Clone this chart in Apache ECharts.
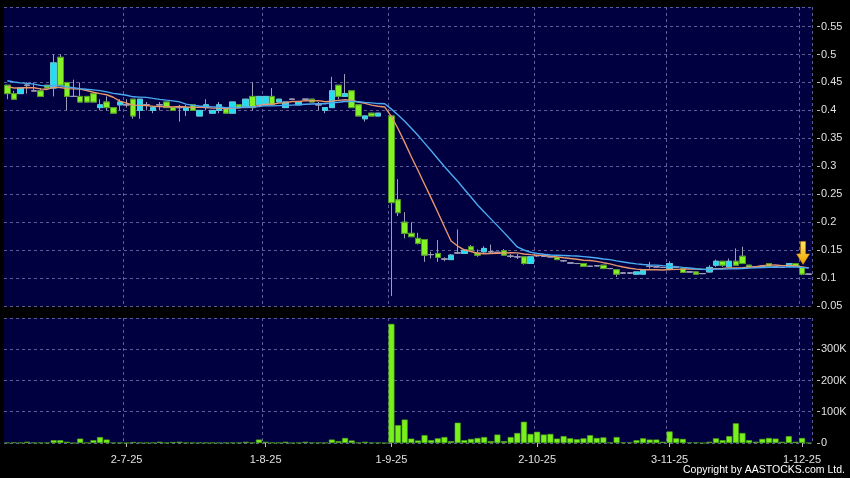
<!DOCTYPE html>
<html><head><meta charset="utf-8">
<script src="https://cdn.jsdelivr.net/npm/echarts@6/dist/echarts.min.js"></script>
<style>html,body{margin:0;padding:0;background:#000;}#c{width:850px;height:478px;}</style>
</head><body><div id="c"></div>
<script>
// Trading days (d-m-yy)
const dates = [
'5-6-25','6-6-25','9-6-25','10-6-25','11-6-25','12-6-25','13-6-25','16-6-25','17-6-25','18-6-25','19-6-25','20-6-25','23-6-25','24-6-25','25-6-25','26-6-25','27-6-25','30-6-25',
'2-7-25','3-7-25','4-7-25','7-7-25','8-7-25','9-7-25','10-7-25','11-7-25','14-7-25','15-7-25','16-7-25','17-7-25','18-7-25','22-7-25','23-7-25','24-7-25','25-7-25','28-7-25','29-7-25','30-7-25','31-7-25',
'1-8-25','4-8-25','6-8-25','7-8-25','8-8-25','11-8-25','12-8-25','13-8-25','14-8-25','18-8-25','19-8-25','20-8-25','21-8-25','22-8-25','25-8-25','26-8-25','27-8-25','28-8-25','29-8-25',
'1-9-25','2-9-25','3-9-25','4-9-25','5-9-25','8-9-25','9-9-25','10-9-25','11-9-25','12-9-25','15-9-25','16-9-25','17-9-25','18-9-25','19-9-25','22-9-25','23-9-25','24-9-25','25-9-25','26-9-25','29-9-25','30-9-25',
'2-10-25','3-10-25','6-10-25','8-10-25','9-10-25','10-10-25','13-10-25','14-10-25','15-10-25','16-10-25','17-10-25','20-10-25','21-10-25','22-10-25','23-10-25','24-10-25','27-10-25','28-10-25','30-10-25','31-10-25',
'3-11-25','4-11-25','5-11-25','6-11-25','7-11-25','10-11-25','11-11-25','12-11-25','13-11-25','14-11-25','17-11-25','18-11-25','19-11-25','20-11-25','21-11-25','24-11-25','25-11-25','26-11-25','27-11-25','28-11-25',
'1-12-25','2-12-25'
];
const tickDates = ['2-7-25','1-8-25','1-9-25','2-10-25','3-11-25','1-12-25'];

// [open, close, low, high]
const ohlc = [
[0.445,0.43,0.42,0.445],[0.43,0.42,0.42,0.435],[0.43,0.44,0.43,0.44],[0.445,0.445,0.43,0.45],[0.435,0.435,0.435,0.45],
[0.435,0.425,0.425,0.44],[0.445,0.44,0.44,0.445],[0.44,0.485,0.425,0.50],[0.495,0.445,0.445,0.50],[0.45,0.425,0.40,0.45],
[0.425,0.425,0.425,0.455],[0.425,0.415,0.415,0.45],[0.425,0.415,0.415,0.425],[0.43,0.415,0.415,0.43],[0.405,0.41,0.40,0.42],
[0.415,0.405,0.40,0.425],[0.405,0.395,0.395,0.405],[0.41,0.415,0.40,0.42],[0.41,0.41,0.405,0.42],[0.42,0.39,0.385,0.42],
[0.40,0.42,0.385,0.42],[0.41,0.41,0.40,0.415],[0.40,0.405,0.395,0.405],[0.41,0.41,0.40,0.415],[0.415,0.405,0.405,0.415],
[0.405,0.40,0.40,0.405],[0.405,0.405,0.38,0.41],[0.40,0.405,0.39,0.41],[0.41,0.40,0.40,0.41],[0.39,0.40,0.39,0.40],
[0.405,0.41,0.40,0.42],[0.395,0.40,0.395,0.40],[0.40,0.41,0.395,0.415],[0.405,0.395,0.395,0.405],[0.395,0.415,0.395,0.415],
[0.41,0.405,0.405,0.41],[0.405,0.42,0.405,0.42],[0.425,0.405,0.40,0.45],[0.41,0.425,0.41,0.425],[0.41,0.425,0.41,0.425],
[0.425,0.41,0.41,0.44],[0.415,0.42,0.415,0.42],[0.405,0.415,0.405,0.415],[0.42,0.42,0.42,0.42],[0.41,0.415,0.41,0.415],
[0.42,0.42,0.42,0.42],[0.42,0.415,0.415,0.42],[0.41,0.41,0.40,0.415],[0.40,0.405,0.395,0.405],[0.405,0.435,0.405,0.46],
[0.445,0.425,0.42,0.445],[0.425,0.43,0.425,0.465],[0.435,0.405,0.405,0.435],[0.41,0.39,0.39,0.41],[0.385,0.39,0.38,0.39],
[0.395,0.39,0.39,0.395],[0.39,0.395,0.39,0.395],null,
[0.39,0.235,0.068,0.39],[0.24,0.217,0.211,0.277],[0.20,0.18,0.171,0.218],[0.18,0.174,0.174,0.20],[0.171,0.162,0.16,0.181],
[0.169,0.141,0.129,0.169],[0.142,0.142,0.135,0.147],[0.144,0.137,0.129,0.168],[0.134,0.134,0.13,0.137],[0.133,0.141,0.133,0.143],
[0.145,0.145,0.144,0.187],[0.144,0.15,0.144,0.152],[0.156,0.15,0.15,0.159],[0.145,0.141,0.138,0.151],[0.147,0.153,0.145,0.157],
[0.147,0.147,0.144,0.16],[0.146,0.146,0.146,0.146],[0.149,0.141,0.141,0.152],[0.139,0.139,0.136,0.143],[0.138,0.138,0.134,0.143],
[0.138,0.126,0.124,0.138],[0.126,0.138,0.126,0.138],[0.14,0.14,0.138,0.141],[0.139,0.139,0.138,0.14],[0.138,0.138,0.137,0.139],
[0.137,0.133,0.133,0.137],[0.131,0.131,0.129,0.132],[0.127,0.127,0.126,0.128],[0.126,0.126,0.125,0.127],[0.126,0.121,0.12,0.126],
[0.121,0.121,0.12,0.122],[0.122,0.122,0.121,0.123],[0.123,0.117,0.116,0.123],[0.117,0.117,0.116,0.118],[0.115,0.107,0.102,0.115],
[0.109,0.109,0.108,0.11],[0.109,0.109,0.108,0.11],[0.107,0.111,0.107,0.111],[0.107,0.115,0.107,0.115],[0.121,0.121,0.117,0.129],
[0.12,0.12,0.119,0.121],[0.119,0.119,0.118,0.12],[0.117,0.126,0.114,0.13],[0.119,0.119,0.118,0.12],[0.117,0.11,0.11,0.117],
[0.111,0.111,0.11,0.112],[0.111,0.107,0.107,0.111],[0.108,0.108,0.108,0.108],[0.111,0.119,0.11,0.123],[0.123,0.13,0.12,0.133],
[0.13,0.123,0.12,0.13],[0.12,0.13,0.12,0.135],[0.13,0.123,0.123,0.153],[0.139,0.126,0.126,0.156],[0.123,0.119,0.119,0.123],
[0.12,0.12,0.119,0.121],[0.121,0.121,0.12,0.122],[0.126,0.121,0.12,0.126],[0.12,0.12,0.119,0.121],[0.119,0.119,0.118,0.12],
[0.121,0.126,0.121,0.126],[0.126,0.121,0.121,0.126],[0.119,0.107,0.105,0.119],[0.107,0.107,0.107,0.107]
];

// Volume in thousands of shares
const volumeK = [
1,2,1,4,1,1,1,9,9,4,0,14,1,9,19,11,1,1,0,3,1,1,1,4,1,3,4,1,1,1,1,1,1,1,1,1,4,1,11,4,1,1,4,0,1,4,1,1,1,11,6,16,8,1,4,1,1,0,
381,57,75,14,8,25,9,15,19,6,65,9,13,16,19,6,27,6,19,32,68,29,36,27,29,14,22,15,12,15,25,16,18,2,19,2,2,9,15,11,11,4,
37,15,13,2,2,0,4,15,9,22,63,32,9,4,13,16,14,4,22,4,16,0
];

// Closes before the first visible day (seed the moving averages)
const priorCloses = [0.465,0.47,0.465,0.46,0.47,0.465,0.46,0.465,0.46,0.455,0.445,0.44,0.435,0.44,0.445,0.45,0.445,0.45,0.445];

const UP = '#22def2', UP_B = '#5cc6d8';
const DN = '#84f226', DN_B = '#4f9a1c';
const DOJI = '#9a9ab4';
const WICK = '#9d9db8';
const GRIDC = '#5e5e96';
const FONT = 'Liberation Sans, Arial, sans-serif';

let last = null;
const filled = ohlc.map(d => { if (d) last = d[1]; return last; });
const allCloses = priorCloses.concat(filled);
function movingAvg(n) {
  return filled.map((_, i) => {
    let s = 0;
    for (let k = 0; k < n; k++) s += allCloses[priorCloses.length + i - k];
    return +(s / n).toFixed(4);
  });
}
const ma10 = movingAvg(10), ma20 = movingAvg(20);

const wickData = ohlc.map(d => d ? d.slice() : '-');
const bodyData = ohlc.map(d => {
  if (!d) return '-';
  const lo = Math.min(d[0], d[1]), hi = Math.max(d[0], d[1]);
  const item = { value: [d[0], d[1], lo, hi] };
  if (d[0] === d[1]) item.itemStyle = { color: DOJI, color0: DOJI, borderColor: DOJI, borderColor0: DOJI };
  return item;
});
const showTick = (idx, val) => tickDates.indexOf(val) >= 0;

const chart = echarts.init(document.getElementById('c'));
chart.setOption({
  backgroundColor: '#000',
  animation: false,
  grid: [
    { left: 4, right: 38, top: 7, height: 299, show: true, backgroundColor: '#000040', borderWidth: 0 },
    { left: 4, right: 38, top: 318, height: 125, show: true, backgroundColor: '#000040', borderWidth: 0 }
  ],
  xAxis: [
    { type: 'category', gridIndex: 0, data: dates, boundaryGap: true,
      axisLine: { show: false }, axisTick: { show: false }, axisLabel: { show: false },
      splitLine: { show: true, interval: showTick, lineStyle: { color: GRIDC, type: [3, 3], width: 1 } } },
    { type: 'category', gridIndex: 1, data: dates, boundaryGap: true,
      axisLine: { show: false },
      axisTick: { show: true, interval: showTick, alignWithLabel: true, length: 4, lineStyle: { color: '#bbb' } },
      axisLabel: { interval: showTick, color: '#e0e0e0', fontSize: 11, margin: 11, fontFamily: FONT },
      splitLine: { show: true, interval: showTick, lineStyle: { color: GRIDC, type: [3, 3], width: 1 } } }
  ],
  yAxis: [
    { type: 'value', gridIndex: 0, position: 'right', min: 0.05, max: 0.585, interval: 0.05, offset: 5,
      axisLine: { show: false },
      axisTick: { show: true, length: 3, lineStyle: { color: '#bbb' } },
      axisLabel: { color: '#e0e0e0', fontSize: 11, margin: 4, showMaxLabel: false, fontFamily: FONT,
        formatter: v => String(+v.toFixed(2)) },
      splitLine: { show: true, lineStyle: { color: GRIDC, type: [3, 3], width: 1 } } },
    { type: 'value', gridIndex: 1, position: 'right', min: 0, max: 399.9, interval: 100, offset: 5,
      axisLine: { show: false },
      axisTick: { show: true, length: 3, lineStyle: { color: '#bbb' } },
      axisLabel: { color: '#e0e0e0', fontSize: 11, margin: 4, showMaxLabel: false, fontFamily: FONT,
        formatter: v => v === 0 ? '0' : v + 'K' },
      splitLine: { show: true, lineStyle: { color: GRIDC, type: [3, 3], width: 1 } } }
  ],
  series: [
    { name: 'wick', type: 'candlestick', xAxisIndex: 0, yAxisIndex: 0, data: wickData, barWidth: 6,
      itemStyle: { color: 'rgba(0,0,0,0)', color0: 'rgba(0,0,0,0)', borderColor: WICK, borderColor0: WICK, borderWidth: 1 } },
    { name: 'body', type: 'candlestick', xAxisIndex: 0, yAxisIndex: 0, data: bodyData, barWidth: 6,
      itemStyle: { color: UP, color0: DN, borderColor: UP_B, borderColor0: DN_B, borderWidth: 1 },
      markPoint: {
        symbol: 'path://M4,0 L9,0 L9,12.5 L13,12.5 L6.5,23 L0,12.5 L4,12.5 Z',
        symbolSize: [13, 23], symbolOffset: [1, -14.5], label: { show: false },
        itemStyle: { color: new echarts.graphic.LinearGradient(0, 0, 0, 1, [{ offset: 0, color: '#ffe85a' }, { offset: 1, color: '#f2a000' }]),
          borderColor: '#c98a00', borderWidth: 0.5 },
        data: [{ coord: [dates[120], ohlc[120][3]] }]
      } },
    { name: 'MA10', type: 'line', xAxisIndex: 0, yAxisIndex: 0, data: ma10, symbol: 'none', smooth: false,
      lineStyle: { color: '#e8956c', width: 1.4 } },
    { name: 'MA20', type: 'line', xAxisIndex: 0, yAxisIndex: 0, data: ma20, symbol: 'none', smooth: false,
      lineStyle: { color: '#4aaaf2', width: 1.4 } },
    { name: 'Volume', type: 'bar', xAxisIndex: 1, yAxisIndex: 1, data: volumeK, barWidth: 6,
      itemStyle: { color: '#78f01c', borderColor: '#52a814', borderWidth: 0.6 } }
  ],
  graphic: [
    { type: 'text', right: 5, top: 465, style: { text: 'Copyright by AASTOCKS.com Ltd.', fill: '#ffffff',
      font: '10.5px "Liberation Sans", Arial, sans-serif' } }
  ]
});
</script></body></html>
